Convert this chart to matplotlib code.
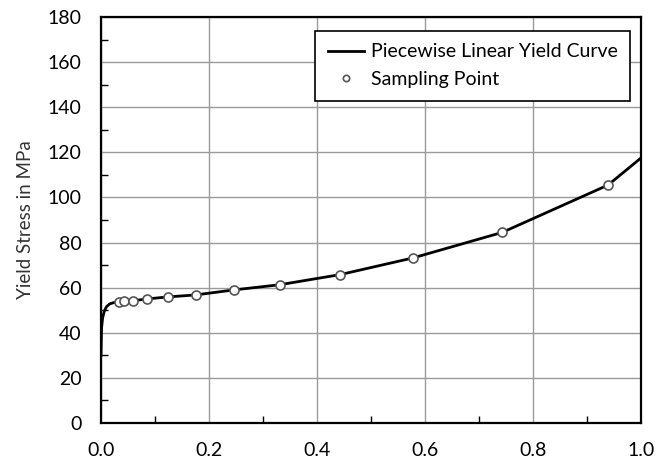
import numpy as np
import matplotlib.pyplot as plt
from matplotlib.ticker import MultipleLocator

# piecewise linear yield curve (plastic strain, stress in MPa)
curve_x = [0.0, 0.001, 0.003, 0.006, 0.010, 0.016, 0.024, 0.033, 0.043, 0.059,
           0.085, 0.124, 0.176, 0.246, 0.331, 0.443, 0.578, 0.743, 0.939, 1.0]
curve_y = [30.0, 42.0, 46.5, 49.5, 51.5, 52.8, 53.4, 53.6, 53.9, 54.2,
           55.0, 55.9, 56.8, 59.0, 61.3, 65.8, 73.2, 84.5, 105.5, 117.5]

# sampling points
sample_x = [0.033, 0.043, 0.059, 0.085, 0.124, 0.176, 0.246, 0.331, 0.443, 0.578, 0.743, 0.939]
sample_y = [53.6, 53.9, 54.2, 55.0, 55.9, 56.8, 59.0, 61.3, 65.8, 73.2, 84.5, 105.5]

plt.rcParams['font.family'] = ['Lato', 'DejaVu Sans']

fig = plt.figure(figsize=(6.67, 4.62), dpi=100)
ax = fig.add_axes([0.1514, 0.0844, 0.8096, 0.8788])

ax.plot(curve_x, curve_y, color='black', lw=2, label='Piecewise Linear Yield Curve', zorder=3)
ax.plot(sample_x, sample_y, 'o', ms=6.5, mfc='white', mec='#555555', mew=1.2,
        label='Sampling Point', zorder=4)

ax.set_xlim(0, 1.0)
ax.set_ylim(0, 180)
ax.xaxis.set_major_locator(MultipleLocator(0.2))
ax.xaxis.set_minor_locator(MultipleLocator(0.1))
ax.yaxis.set_major_locator(MultipleLocator(20))
ax.yaxis.set_minor_locator(MultipleLocator(10))
ax.xaxis.set_major_formatter(plt.FormatStrFormatter('%.1f'))
ax.grid(True, which='major', color='#9a9a9a', lw=1)
ax.set_axisbelow(True)
ax.tick_params(which='both', direction='in', labelsize=14)
ax.tick_params(axis='y', pad=14)
ax.tick_params(axis='x', pad=14)
ax.tick_params(which='major', length=0)
ax.tick_params(which='minor', length=5, width=1)
for s in ax.spines.values():
    s.set_linewidth(1.6)

ax.set_ylabel('Yield Stress in MPa', fontsize=13.5, labelpad=10, color='#333333')

leg = ax.legend(loc='upper right', bbox_to_anchor=(0.98, 0.966), borderaxespad=0,
                fontsize=14, fancybox=False, framealpha=1, edgecolor='black',
                handlelength=1.85, handletextpad=0.35, borderpad=0.65,
                labelspacing=0.55, markerscale=0.7)
leg.get_frame().set_linewidth(1.2)

fig.savefig('out.png', dpi=100)
